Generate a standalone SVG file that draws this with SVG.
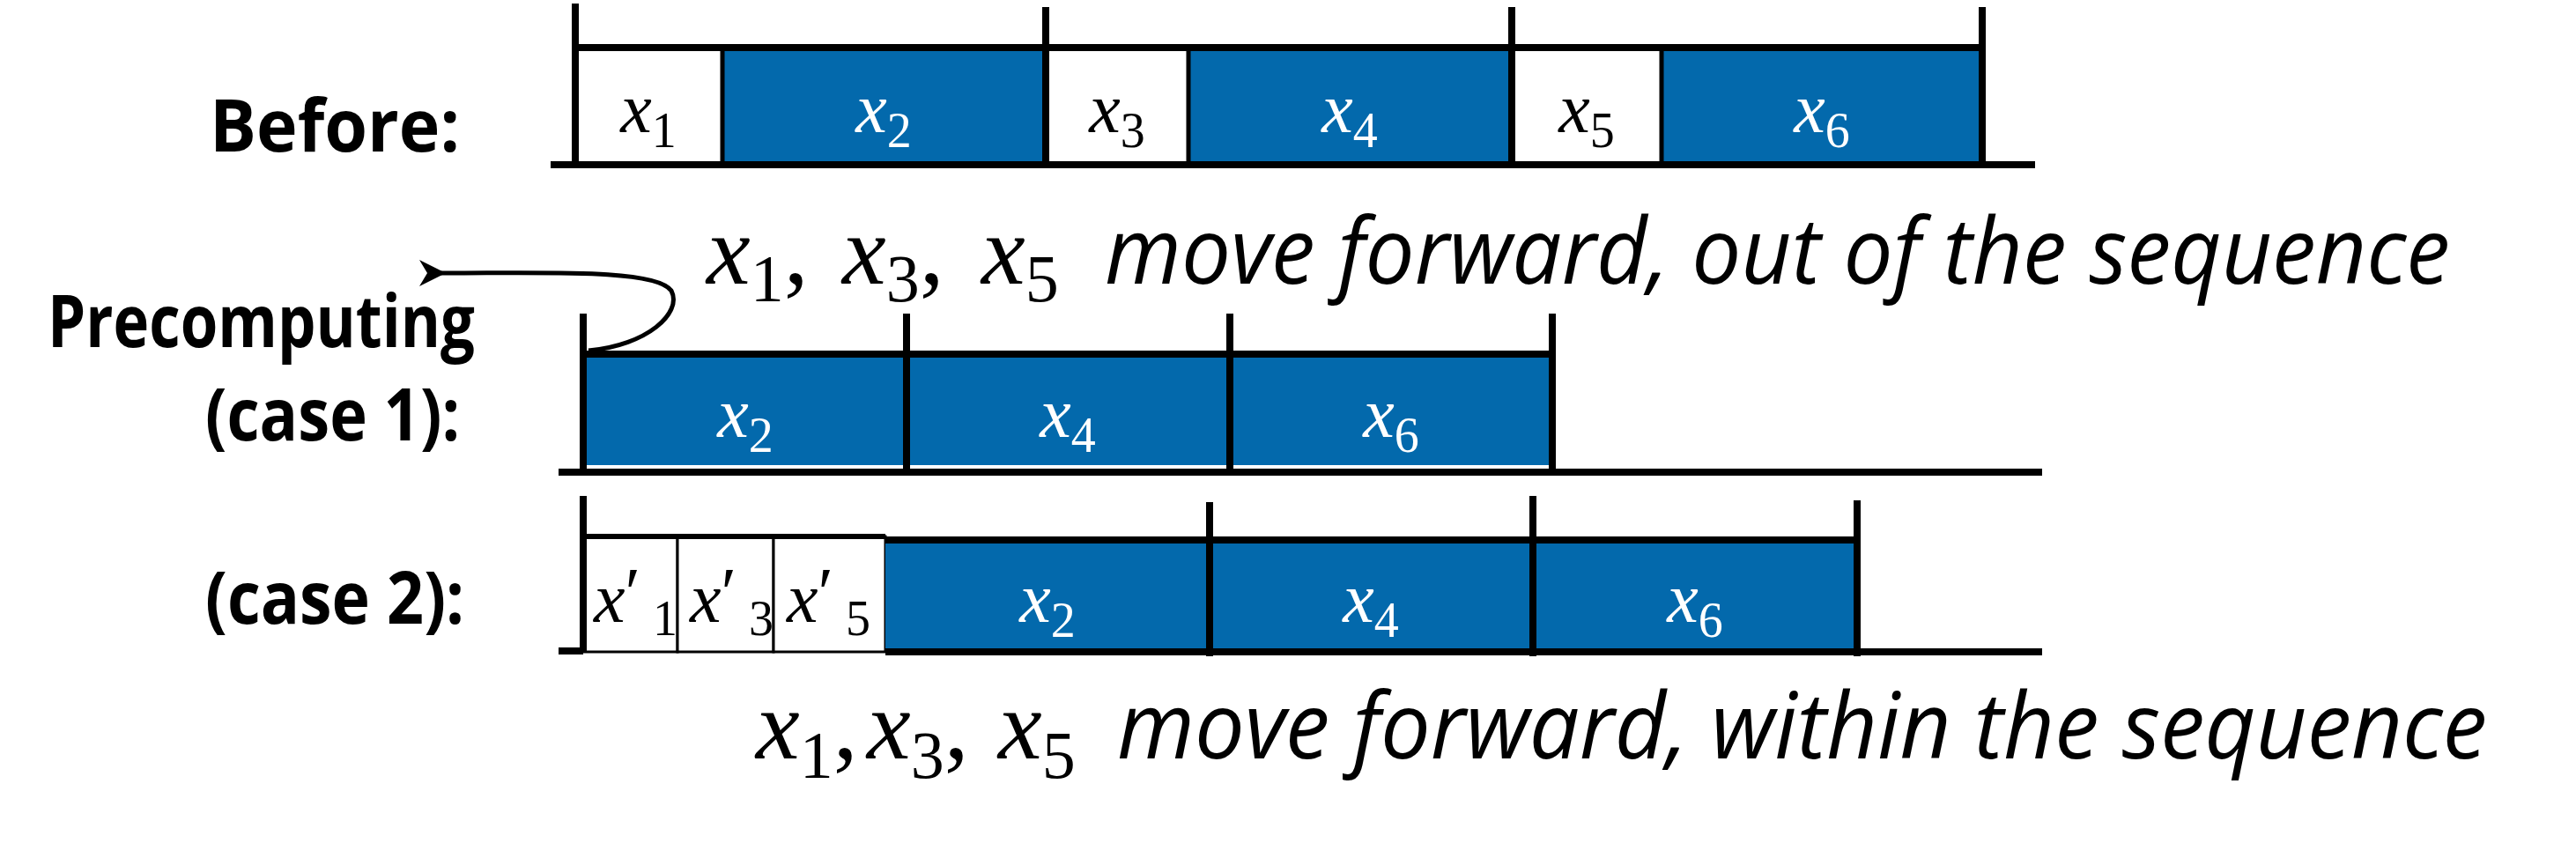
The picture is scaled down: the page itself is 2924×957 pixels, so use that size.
<svg xmlns="http://www.w3.org/2000/svg" width="2924" height="957" viewBox="0 0 2924 957">
<style>
.lbl{font-family:"Open Sans","Liberation Sans",sans-serif;font-weight:bold;font-size:82px;fill:#000}
.m{font-family:"Liberation Serif",serif;font-style:italic;font-size:80px}
.s{font-style:normal;font-size:56px}
.w{fill:#fff}
.k{fill:#000}
.big{font-family:"Liberation Serif",serif;font-style:italic;font-size:112px;fill:#000}
.bs{font-style:normal;font-size:76px}
.it{font-family:"Open Sans","Liberation Sans",sans-serif;font-style:italic;font-size:104px;fill:#000}
.blue{fill:#0369AC}
.ln{stroke:#000;stroke-width:8;fill:none}
.thin{stroke:#000;stroke-width:3;fill:#fff}
</style>
<defs>
<marker id="ah" viewBox="0 0 10 10" refX="2" refY="5" markerWidth="6" markerHeight="6" orient="auto">
<path d="M10,0 L0,5 L10,10 L7,5 z" fill="#000"/>
</marker>
</defs>
<g id="labels">
<text class="lbl" x="522" y="172" text-anchor="end" textLength="284" lengthAdjust="spacingAndGlyphs">Before:</text>
<text class="lbl" x="539" y="394" text-anchor="end" textLength="485" lengthAdjust="spacingAndGlyphs">Precomputing</text>
<text class="lbl" x="522" y="500" text-anchor="end" textLength="289" lengthAdjust="spacingAndGlyphs">(case 1):</text>
<text class="lbl" x="527" y="708" text-anchor="end" textLength="294" lengthAdjust="spacingAndGlyphs">(case 2):</text>
</g>
<g id="row-before">
<rect x="653" y="54" width="167" height="130" fill="#fff"/>
<rect x="820" y="54" width="367" height="130" class="blue"/>
<rect x="1187" y="54" width="162" height="130" fill="#fff"/>
<rect x="1349" y="54" width="367" height="130" class="blue"/>
<rect x="1716" y="54" width="170" height="130" fill="#fff"/>
<rect x="1886" y="54" width="364" height="130" class="blue"/>
<line x1="653" y1="54" x2="2250" y2="54" class="ln"/>
<line x1="820" y1="54" x2="820" y2="184" stroke="#000" stroke-width="5"/>
<line x1="1349" y1="54" x2="1349" y2="184" stroke="#000" stroke-width="5"/>
<line x1="1886" y1="54" x2="1886" y2="184" stroke="#000" stroke-width="5"/>
<line x1="653" y1="4" x2="653" y2="187" class="ln"/>
<line x1="1187" y1="8" x2="1187" y2="187" class="ln"/>
<line x1="1716" y1="8" x2="1716" y2="187" class="ln"/>
<line x1="2250" y1="8" x2="2250" y2="187" class="ln"/>
<line x1="625" y1="187" x2="2310" y2="187" class="ln"/>
<text class="m k" x="736" y="150" text-anchor="middle">x<tspan class="s" dy="17">1</tspan></text>
<text class="m w" x="1003" y="150" text-anchor="middle">x<tspan class="s" dy="17">2</tspan></text>
<text class="m k" x="1268" y="150" text-anchor="middle">x<tspan class="s" dy="17">3</tspan></text>
<text class="m w" x="1532" y="150" text-anchor="middle">x<tspan class="s" dy="17">4</tspan></text>
<text class="m k" x="1801" y="150" text-anchor="middle">x<tspan class="s" dy="17">5</tspan></text>
<text class="m w" x="2068" y="150" text-anchor="middle">x<tspan class="s" dy="17">6</tspan></text>
</g>
<g id="caption1">
<text class="big" x="802" y="322">x<tspan class="bs" dy="20">1</tspan><tspan dy="-20" font-style="normal">,</tspan><tspan x="956">x</tspan><tspan class="bs" dy="20">3</tspan><tspan dy="-20" font-style="normal">,</tspan><tspan x="1114">x</tspan><tspan class="bs" dy="20">5</tspan></text>
<text class="it" x="1254" y="322" textLength="1527" lengthAdjust="spacingAndGlyphs">move forward, out of the sequence</text>
</g>
<g id="row-case1">
<rect x="662" y="402" width="1100" height="126" class="blue"/>
<line x1="662" y1="402" x2="1762" y2="402" class="ln"/>
<line x1="662" y1="356" x2="662" y2="536" class="ln"/>
<line x1="1029" y1="356" x2="1029" y2="536" class="ln"/>
<line x1="1396" y1="356" x2="1396" y2="536" class="ln"/>
<line x1="1762" y1="356" x2="1762" y2="536" class="ln"/>
<line x1="634" y1="536" x2="2318" y2="536" class="ln"/>
<text class="m w" x="846" y="496" text-anchor="middle">x<tspan class="s" dy="17">2</tspan></text>
<text class="m w" x="1212" y="496" text-anchor="middle">x<tspan class="s" dy="17">4</tspan></text>
<text class="m w" x="1579" y="496" text-anchor="middle">x<tspan class="s" dy="17">6</tspan></text>
</g>
<g id="row-case2">
<rect x="662" y="609" width="107" height="131" class="thin"/>
<rect x="769" y="609" width="109" height="131" class="thin"/>
<rect x="878" y="609" width="127" height="131" class="thin"/>
<rect x="1005" y="611" width="1103" height="129" class="blue"/>
<line x1="662" y1="609" x2="1005" y2="609" stroke="#000" stroke-width="6"/>
<line x1="1005" y1="613" x2="2108" y2="613" class="ln"/>
<line x1="662" y1="563" x2="662" y2="741" class="ln"/>
<line x1="1373" y1="570" x2="1373" y2="745" class="ln"/>
<line x1="1740" y1="563" x2="1740" y2="745" class="ln"/>
<line x1="2108" y1="568" x2="2108" y2="745" class="ln"/>
<line x1="634" y1="739" x2="662" y2="739" class="ln"/>
<line x1="1005" y1="740" x2="2318" y2="740" class="ln"/>
<text class="m k" x="674" y="706">x<tspan font-style="normal" font-size="80" dy="-6">′</tspan><tspan class="s" x="741" y="721">1</tspan></text>
<text class="m k" x="783" y="706">x<tspan font-style="normal" font-size="80" dy="-6">′</tspan><tspan class="s" x="850" y="721">3</tspan></text>
<text class="m k" x="893" y="706">x<tspan font-style="normal" font-size="80" dy="-6">′</tspan><tspan class="s" x="960" y="721">5</tspan></text>
<text class="m w" x="1189" y="706" text-anchor="middle">x<tspan class="s" dy="17">2</tspan></text>
<text class="m w" x="1556" y="706" text-anchor="middle">x<tspan class="s" dy="17">4</tspan></text>
<text class="m w" x="1924" y="706" text-anchor="middle">x<tspan class="s" dy="17">6</tspan></text>
</g>
<g id="caption2">
<text class="big" x="858" y="861">x<tspan class="bs" dy="22">1</tspan><tspan dy="-22" font-style="normal">,</tspan><tspan x="984">x</tspan><tspan class="bs" dy="22">3</tspan><tspan dy="-22" font-style="normal">,</tspan><tspan x="1133">x</tspan><tspan class="bs" dy="22">5</tspan></text>
<text class="it" x="1268" y="861" textLength="1555" lengthAdjust="spacingAndGlyphs">move forward, within the sequence</text>
</g>
<g id="connectors">
<path d="M 668 398 C 735 392, 775 355, 762 330 C 745 305, 620 310, 500 310" stroke="#000" stroke-width="5" fill="none" marker-end="url(#ah)"/>
</g>
</svg>
